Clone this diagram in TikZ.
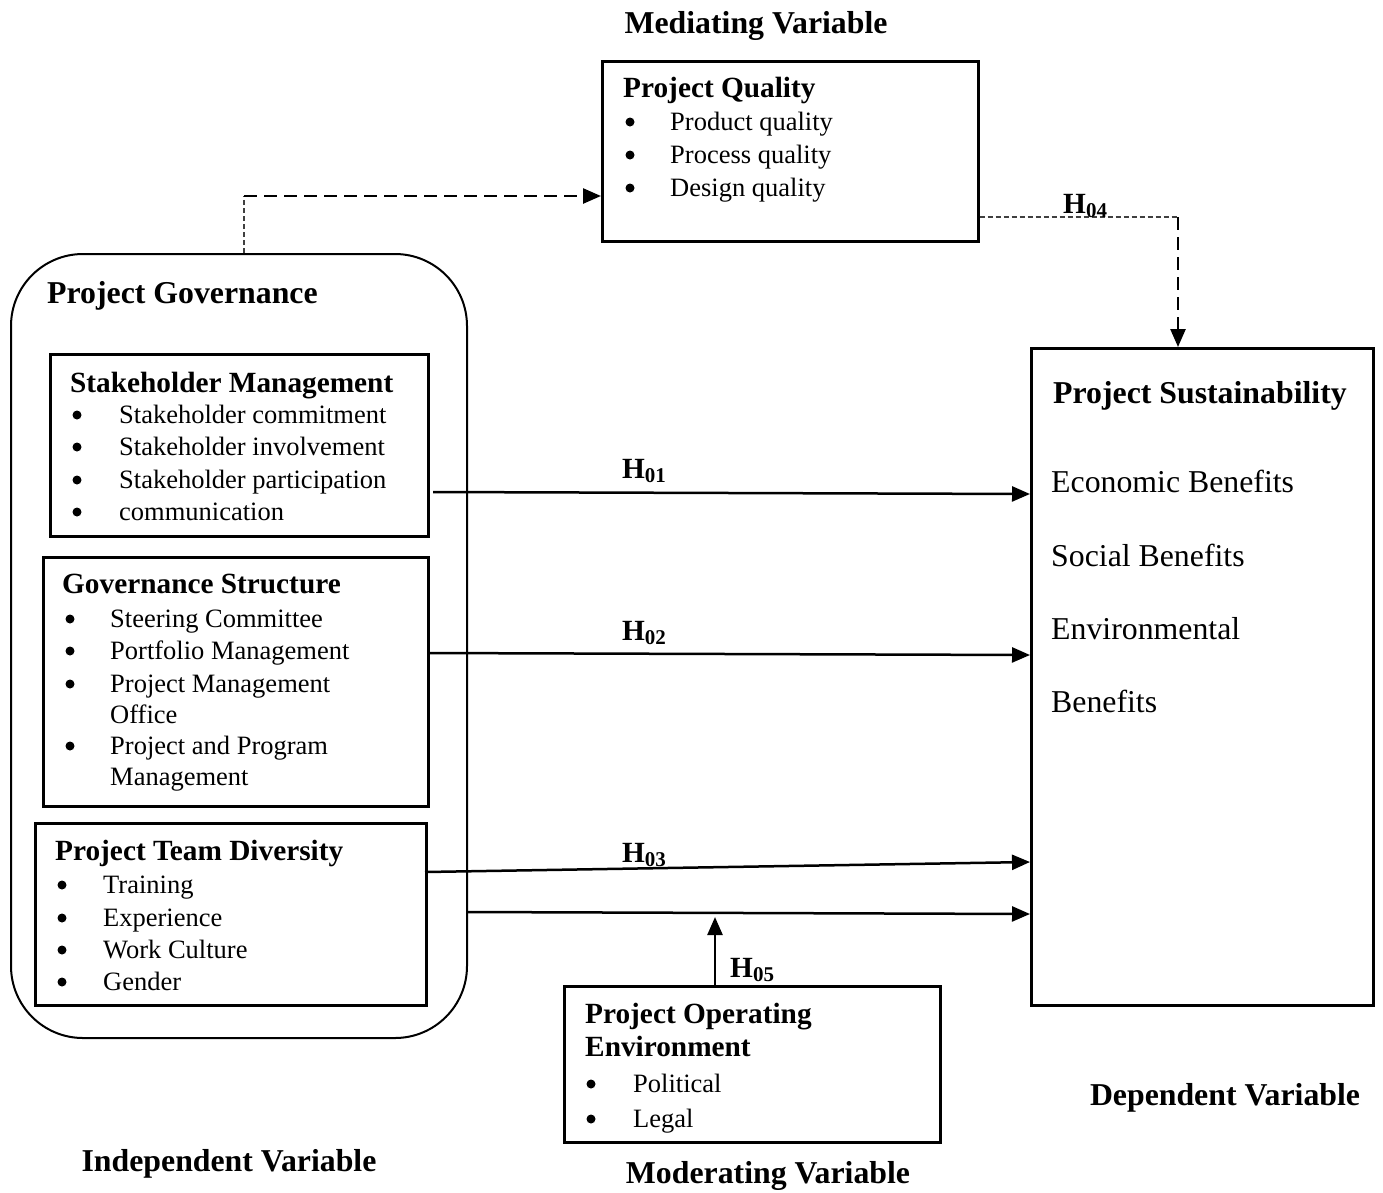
\documentclass[tikz,border=0pt]{standalone}
\usepackage{fontspec}
\setmainfont{Liberation Serif}
\usetikzlibrary{arrows.meta}
\newcommand{\hlab}[1]{\bfseries H\raisebox{-0.16em}{\fontsize{21}{21}\selectfont #1}}
\begin{document}
\begin{tikzpicture}[x=1pt,y=-1pt,
  box/.style={draw, line width=2.5pt, rectangle, inner sep=0pt, anchor=north west},
  ttl/.style={font=\fontsize{29.3}{32}\selectfont\bfseries, anchor=base west, inner sep=0pt},
  big/.style={font=\fontsize{31.8}{35}\selectfont\bfseries, anchor=base west, inner sep=0pt},
  captxt/.style={font=\fontsize{31.8}{35}\selectfont\bfseries, anchor=base, inner sep=0pt},
  itm/.style={font=\fontsize{26.5}{30}\selectfont, anchor=base west, inner sep=0pt},
  bul/.style={circle, fill, inner sep=0pt, minimum size=9pt},
  sus/.style={font=\fontsize{31.8}{35}\selectfont, anchor=base west, inner sep=0pt},
  hl/.style={font=\fontsize{29.3}{32}\selectfont, anchor=base west, inner sep=0pt},
  arr/.style={line width=2.5pt, -{Triangle[length=18pt,width=15pt]}},
  thickdash/.style={line width=2.5pt, dash pattern=on 13pt off 7pt},
  thindash/.style={line width=1.3pt, dash pattern=on 5pt off 3pt, draw=black!75},
]
\useasboundingbox (0,0) rectangle (1383,1192);

% rounded governance container
\node[draw, line width=2pt, rounded corners=72pt, minimum width=456pt, minimum height=784pt, inner sep=0pt, anchor=north west] (pg) at (10,253) {};
\node[big] (pgt) at (47,303) {Project Governance};

% Project Quality
\node[captxt] (medv) at (756,33) {Mediating Variable};
\node[box, minimum width=376pt, minimum height=180pt] (pq) at (601,60) {};
\node[ttl] (pqt) at (623,97) {Project Quality};
\foreach \y/\t [count=\i] in {130/Product quality,163/Process quality,196/Design quality}{
  \node[bul] (pqb\i) at (630,\y-8) {};
  \node[itm] (pqi\i) at (670,\y) {\t};
}

% Stakeholder Management
\node[box, minimum width=378pt, minimum height=182pt] (sm) at (49,353) {};
\node[ttl] (smt) at (70,392) {Stakeholder Management};
\foreach \y/\t [count=\i] in {423/Stakeholder commitment,455/Stakeholder involvement,488/Stakeholder participation,520/communication}{
  \node[bul] (smb\i) at (77,\y-8) {};
  \node[itm] (smi\i) at (119,\y) {\t};
}

% Governance Structure
\node[box, minimum width=385pt, minimum height=249pt] (gs) at (42,556) {};
\node[ttl] (gst) at (62,593) {Governance Structure};
\foreach \y/\t [count=\i] in {627/Steering Committee,659/Portfolio Management,692/Project Management,754/Project and Program}{
  \node[bul] (gsb\i) at (70,\y-8) {};
  \node[itm] (gsi\i) at (110,\y) {\t};
}
\node[itm] (gsi5) at (110,723) {Office};
\node[itm] (gsi6) at (110,785) {Management};

% Project Team Diversity
\node[box, minimum width=391pt, minimum height=182pt] (ptd) at (34,822) {};
\node[ttl] (ptdt) at (55,860) {Project Team Diversity};
\foreach \y/\t [count=\i] in {893/Training,926/Experience,958/Work Culture,990/Gender}{
  \node[bul] (ptdb\i) at (62,\y-8) {};
  \node[itm] (ptdi\i) at (103,\y) {\t};
}

% Project Sustainability
\node[box, minimum width=342pt, minimum height=657pt] (ps) at (1030,347) {};
\node[big] (pst) at (1053,403) {Project Sustainability};
\node[sus] (ps1) at (1051,492) {Economic Benefits};
\node[sus] (ps2) at (1051,566) {Social Benefits};
\node[sus] (ps3) at (1051,639) {Environmental};
\node[sus] (ps4) at (1051,712) {Benefits};

% Project Operating Environment
\node[box, minimum width=376pt, minimum height=156pt] (poe) at (563,985) {};
\node[ttl] (poet1) at (585,1023) {Project Operating};
\node[ttl] (poet2) at (585,1056) {Environment};
\node[bul] (poeb1) at (591,1084) {};
\node[itm] (poei1) at (633,1092) {Political};
\node[bul] (poeb2) at (591,1119) {};
\node[itm] (poei2) at (633,1127) {Legal};

% captions
\node[captxt] (indv) at (229,1171) {Independent Variable};
\node[captxt] (modv) at (768,1183) {Moderating Variable};
\node[captxt] (depv) at (1225,1105) {Dependent Variable};

% dashed mediation connectors
\coordinate (q0) at (244,196);
\draw[thindash] (q0 |- pg.north) -- (q0);
\draw[thickdash, arr] (q0) -- (q0 -| pq.west);
\coordinate (q4) at (1178,217);
\draw[thindash] (pq.east |- q4) -- (q4);
\draw[thickdash, arr] (q4) -- (q4 |- ps.north);
\node[hl] (h4) at (1063,213) {\hlab{04}};

% direct hypotheses
\coordinate (h1s) at (433,492);
\coordinate (h1e) at (1030,494);
\draw[arr] (h1s) -- (h1e);
\node[hl] (h1) at (622,478) {\hlab{01}};

\coordinate (h2s) at (427,653);
\coordinate (h2e) at (1030,655);
\draw[arr] (h2s) -- (h2e);
\node[hl] (h2) at (622,640) {\hlab{02}};

\coordinate (h3s) at (425,872);
\coordinate (h3e) at (1030,862);
\draw[arr] (h3s) -- (h3e);
\node[hl] (h3) at (622,862) {\hlab{03}};

\coordinate (h6s) at (466,912);
\coordinate (h6e) at (1030,914);
\draw[arr] (h6s) -- (h6e);

% moderation
\coordinate (h5e) at (715,917);
\draw[arr] (h5e |- poe.north) -- (h5e);
\node[hl] (h5) at (730,977) {\hlab{05}};
\end{tikzpicture}
\end{document}
